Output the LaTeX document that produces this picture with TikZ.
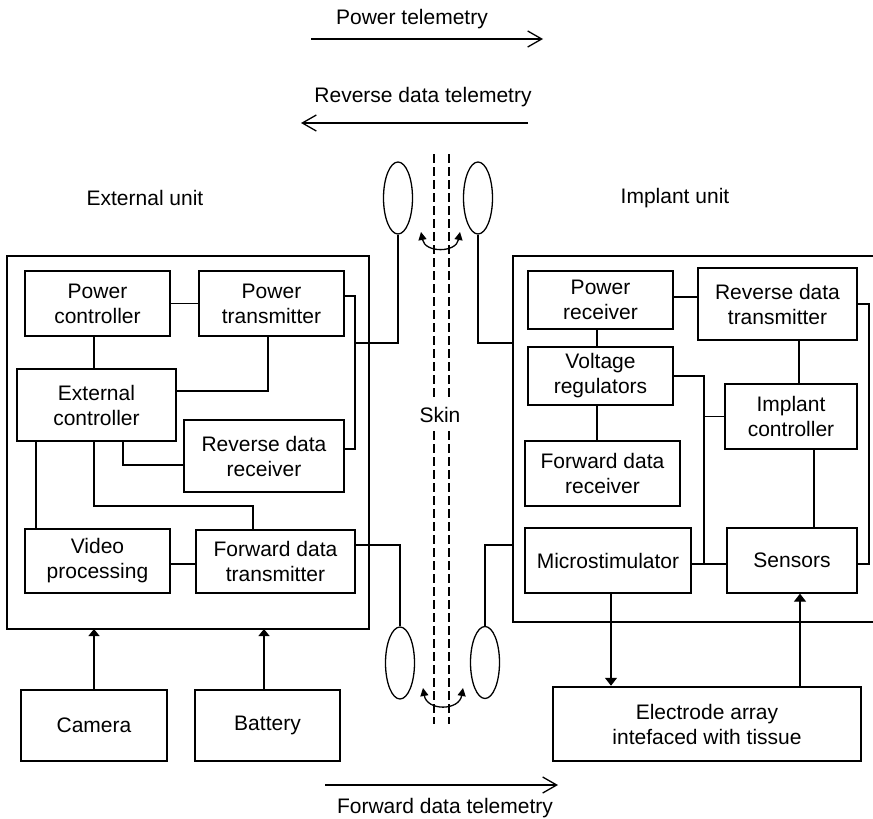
\documentclass[tikz,border=0pt]{standalone}
\usepackage{fontspec}
\setmainfont{Liberation Sans}
\usetikzlibrary{arrows.meta,shapes.geometric}
\begin{document}
\begin{tikzpicture}[x=1pt,y=-1pt,
  font=\fontsize{21}{25}\selectfont,
  thin line/.style={line width=1.3pt},
  ibox/.style={draw,line width=1.3pt,inner sep=0pt,align=center},
  obox/.style={draw,line width=2.5pt,inner sep=0pt,align=center},
  coil/.style={draw,ellipse,line width=1.3pt,minimum width=29pt,minimum height=72pt,inner sep=0pt},
  skin/.style={line width=1.1pt,dash pattern=on 9pt off 4pt},
  tele/.style={-{Straight Barb[length=14pt,width=16pt,line width=1.3pt]}},
  solidtip/.style={-{Triangle[length=8pt,width=12pt]}},
  curvetip/.style={{Triangle[length=8pt,width=8pt]}-{Triangle[length=8pt,width=8pt]}}
]
\useasboundingbox (0,0) rectangle (873,819);

% outer units
\draw[line width=2.5pt] (7,256) rectangle (369,629);
\coordinate (extbottomA) at (94,629);
\coordinate (extbottomB) at (264,629);
\draw[line width=2.5pt] (875,256) -- (513,256) -- (513,622) -- (875,622);
\coordinate (implL1) at (513,343);
\coordinate (implL2) at (513,545);

% labels
\node (ptlabel) at (412,19) {Power telemetry};
\node (rdlabel) at (423,97) {Reverse data telemetry};
\node (fdlabel) at (445,808) {Forward data telemetry};
\node (extlabel) at (145,198) {External unit};
\node (implabel) at (675,198) {Implant unit};
\node (skinlabel) at (440,415) {Skin};

% telemetry arrows
\coordinate (pa1) at (311,39); \coordinate (pa2) at (543,39);
\draw[thin line,tele] (pa1) -- (pa2);
\coordinate (ra1) at (528,123); \coordinate (ra2) at (301,123);
\draw[thin line,tele] (ra1) -- (ra2);
\coordinate (fa1) at (325,785); \coordinate (fa2) at (558,785);
\draw[line width=2.2pt,tele] (fa1) -- (fa2);

% skin dashed lines
\foreach \xx in {434,449}{
  \draw[skin] (\xx,154) -- (\xx,400);
  \draw[skin] (\xx,431) -- (\xx,724);
}

% coils
\node[coil] (CL1) at (398,198) {};
\node[coil] (CR1) at (478,198) {};
\node[coil] (CL2) at (400,663) {};
\node[coil] (CR2) at (485,662.5) {};
\coordinate (ct1) at (421,232); \coordinate (ct2) at (460,232);
\draw[thin line,curvetip] (ct1) .. controls (425,253) and (456,253) .. (ct2);
\coordinate (cb1) at (423,688); \coordinate (cb2) at (463,688);
\draw[thin line,curvetip] (cb1) .. controls (427,711) and (459,711) .. (cb2);

% external unit boxes
\node[ibox,minimum width=145pt,minimum height=65pt] (PC) at (97.5,303.5) {Power\\controller};
\node[ibox,minimum width=145pt,minimum height=65pt] (PT) at (271.5,303.5) {Power\\transmitter};
\node[ibox,minimum width=159pt,minimum height=72pt] (EC) at (96.5,405) {External\\controller};
\node[ibox,minimum width=160pt,minimum height=72pt] (RDR) at (264,456) {Reverse data\\receiver};
\node[ibox,minimum width=145pt,minimum height=64pt] (VP) at (97.5,561) {Video\\processing};
\node[ibox,minimum width=159pt,minimum height=63pt] (FDT) at (275.5,561.5) {Forward data\\transmitter};

% implant unit boxes
\node[ibox,minimum width=145pt,minimum height=58pt] (PR) at (600.5,300) {Power\\receiver};
\node[ibox,minimum width=159pt,minimum height=72pt] (RDT) at (777.5,304) {Reverse data\\transmitter};
\node[ibox,minimum width=145pt,minimum height=58pt] (VR) at (600.5,376) {Voltage\\regulators};
\node[ibox,minimum width=132pt,minimum height=65pt] (IC) at (791,416.5) {Implant\\controller};
\node[ibox,minimum width=155pt,minimum height=65pt] (FDR) at (602.5,473.5) {Forward data\\receiver};
\node[ibox,minimum width=166pt,minimum height=65pt] (MS) at (608,560.5) {Microstimulator};
\node[ibox,minimum width=130pt,minimum height=65pt] (SE) at (792,560.5) {Sensors};

% bottom boxes
\node[obox,minimum width=146pt,minimum height=71pt] (CAM) at (94,725.5) {Camera};
\node[obox,minimum width=145pt,minimum height=71pt] (BAT) at (267.5,725.5) {Battery};
\node[obox,minimum width=308pt,minimum height=74pt] (EA) at (707,724) {Electrode array\\intefaced with tissue};

% external connectors
\draw[thin line] (PC.east) -- (PT.west);
\draw[thin line] (PC.south -| 94,0) -- (EC.north -| 94,0);
\draw[thin line] (PT.south -| 268,0) |- (EC.east |- 0,391);
\draw[thin line] (PT.east |- 0,296) -- (355,296) |- (RDR.east |- 0,449);
\draw[thin line] (355,343) -| (CL1.south);
\draw[thin line] (EC.south -| 123,0) |- (RDR.west |- 0,465);
\draw[thin line] (EC.south -| 94,0) |- (253,506) -- (FDT.north -| 253,0);
\draw[thin line] (EC.south -| 36,0) -- (VP.north -| 36,0);
\draw[thin line] (VP.east |- 0,564) -- (FDT.west |- 0,564);
\draw[thin line] (FDT.east |- 0,545) -| (CL2.north);

% implant connectors
\draw[thin line] (CR1.south) |- (implL1);
\draw[thin line] (CR2.north) |- (implL2);
\draw[thin line] (PR.east |- 0,297) -- (RDT.west |- 0,297);
\draw[thin line] (PR.south -| 597,0) -- (VR.north -| 597,0);
\draw[thin line] (VR.south -| 597,0) -- (FDR.north -| 597,0);
\draw[thin line] (VR.east) -| (704,564);
\draw[thin line] (MS.east |- 0,564) -- (SE.west |- 0,564);
\draw[thin line] (IC.west) -- (704,416.5);
\draw[thin line] (RDT.south -| 799,0) -- (IC.north -| 799,0);
\draw[thin line] (IC.south -| 814,0) -- (SE.north -| 814,0);
\draw[thin line] (RDT.east) -- (869,304) |- (SE.east |- 0,564);

% arrows
\draw[thin line,-{Triangle[length=7pt,width=11pt]}] (CAM.north -| extbottomA) -- (extbottomA);
\draw[thin line,-{Triangle[length=7pt,width=11pt]}] (BAT.north -| extbottomB) -- (extbottomB);
\draw[thin line,solidtip] (MS.south -| 611,0) -- (EA.north -| 611,0);
\draw[thin line,solidtip] (EA.north -| 800,0) -- (SE.south -| 800,0);
\end{tikzpicture}
\end{document}
